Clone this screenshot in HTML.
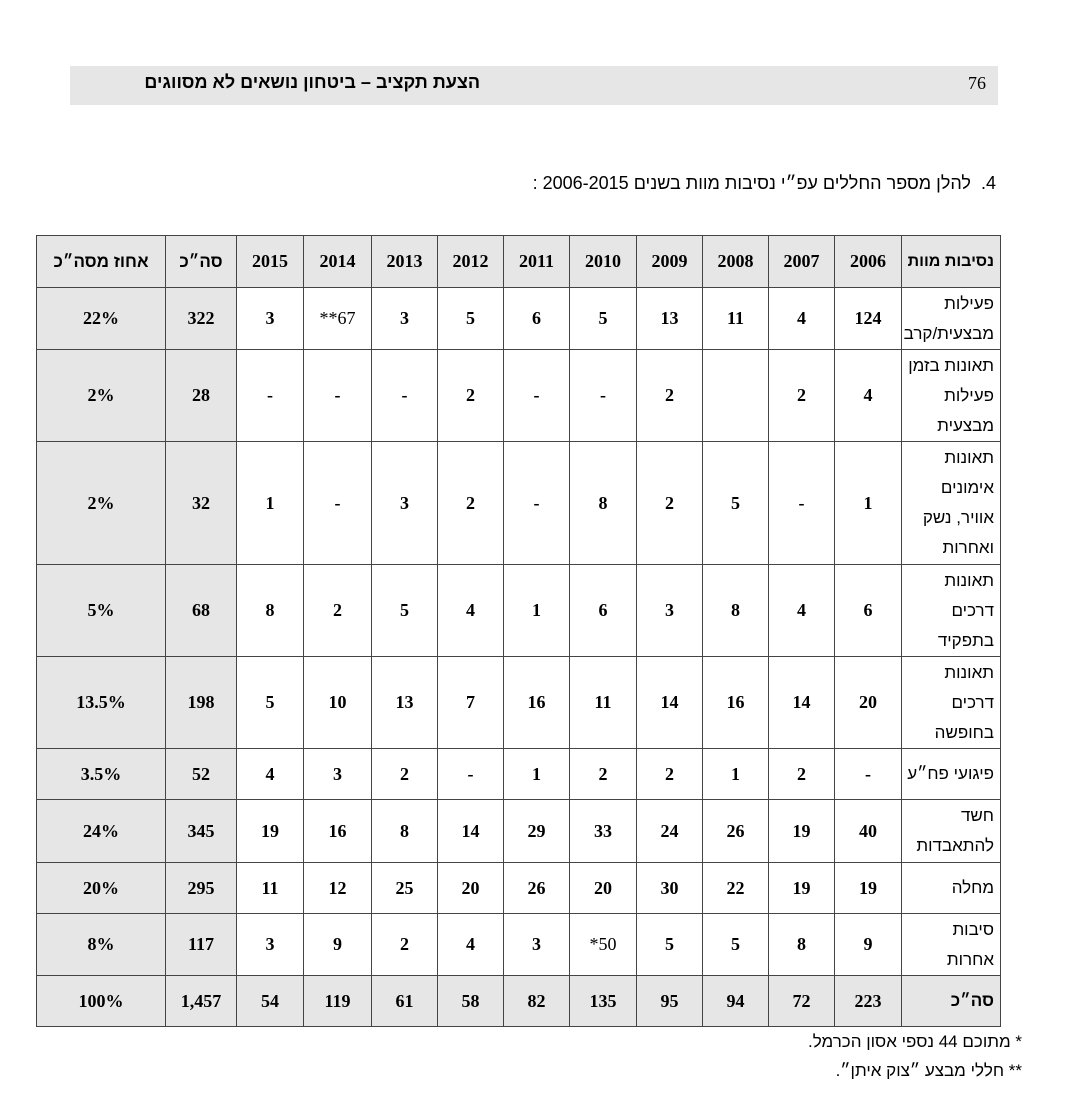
<!DOCTYPE html>
<html><head><meta charset="utf-8"><style>
body{margin:0;background:#fff;width:1080px;height:1118px;position:relative;font-family:"Liberation Serif","Noto Serif CJK SC",serif;}
.bar{position:absolute;left:70px;top:66px;width:928px;height:39px;background:#e6e6e6;}
.bar .t{position:absolute;right:518px;top:6px;font-size:18px;font-weight:bold;font-family:"Liberation Sans","DejaVu Sans",sans-serif;direction:rtl;}
.bar .n{position:absolute;right:12px;top:7px;font-size:18px;}
.title{position:absolute;right:84px;top:173px;font-size:18px;direction:rtl;font-family:"Liberation Sans","DejaVu Sans",sans-serif;}
table{position:absolute;left:36px;top:235px;border-collapse:collapse;table-layout:fixed;width:964px;}
td{border:1px solid #444;text-align:center;font-weight:bold;font-size:18px;padding:0;vertical-align:middle;white-space:nowrap;overflow:hidden;}
.g{background:#e6e6e6;}
td.l{direction:rtl;text-align:right;font-weight:normal;padding-right:6px;font-family:"Liberation Sans","DejaVu Sans",sans-serif;font-size:17px;line-height:30px;}
td.hl{font-weight:bold;font-family:"Liberation Sans","DejaVu Sans",sans-serif;font-size:17px;}
.o{unicode-bidi:bidi-override;direction:ltr;font-weight:normal;}
.fn{position:absolute;right:58px;font-size:17px;direction:rtl;font-family:"Liberation Sans","DejaVu Sans",sans-serif;}
</style></head><body>
<div class="bar"><div class="t">הצעת תקציב – ביטחון נושאים לא מסווגים</div><div class="n">76</div></div>
<div class="title">4.&nbsp; להלן מספר החללים עפ״י נסיבות מוות בשנים 2006-2015 :</div>
<table>
<colgroup><col style="width:129px"><col style="width:71px"><col style="width:67px"><col style="width:68px"><col style="width:66px"><col style="width:66px"><col style="width:66px"><col style="width:67px"><col style="width:66px"><col style="width:66px"><col style="width:66px"><col style="width:67px"><col style="width:99px"></colgroup>
<tr style="height:52px" class="g"><td class="hl" style="direction:rtl">אחוז מסה״כ</td><td class="hl" style="direction:rtl">סה״כ</td><td>2015</td><td>2014</td><td>2013</td><td>2012</td><td>2011</td><td>2010</td><td>2009</td><td>2008</td><td>2007</td><td>2006</td><td class="l hl" style="font-weight:bold;font-size:16px">נסיבות מוות</td></tr>
<tr style="height:62px"><td class="g">22%</td><td class="g">322</td><td>3</td><td><span class="o">**67</span></td><td>3</td><td>5</td><td>6</td><td>5</td><td>13</td><td>11</td><td>4</td><td>124</td><td class="l">פעילות<br>מבצעית/קרב</td></tr>
<tr style="height:92px"><td class="g">2%</td><td class="g">28</td><td>-</td><td>-</td><td>-</td><td>2</td><td>-</td><td>-</td><td>2</td><td></td><td>2</td><td>4</td><td class="l">תאונות בזמן<br>פעילות<br>מבצעית</td></tr>
<tr style="height:123px"><td class="g">2%</td><td class="g">32</td><td>1</td><td>-</td><td>3</td><td>2</td><td>-</td><td>8</td><td>2</td><td>5</td><td>-</td><td>1</td><td class="l">תאונות<br>אימונים<br>אוויר, נשק<br>ואחרות</td></tr>
<tr style="height:92px"><td class="g">5%</td><td class="g">68</td><td>8</td><td>2</td><td>5</td><td>4</td><td>1</td><td>6</td><td>3</td><td>8</td><td>4</td><td>6</td><td class="l">תאונות<br>דרכים<br>בתפקיד</td></tr>
<tr style="height:92px"><td class="g">13.5%</td><td class="g">198</td><td>5</td><td>10</td><td>13</td><td>7</td><td>16</td><td>11</td><td>14</td><td>16</td><td>14</td><td>20</td><td class="l">תאונות<br>דרכים<br>בחופשה</td></tr>
<tr style="height:51px"><td class="g">3.5%</td><td class="g">52</td><td>4</td><td>3</td><td>2</td><td>-</td><td>1</td><td>2</td><td>2</td><td>1</td><td>2</td><td>-</td><td class="l">פיגועי פח״ע</td></tr>
<tr style="height:63px"><td class="g">24%</td><td class="g">345</td><td>19</td><td>16</td><td>8</td><td>14</td><td>29</td><td>33</td><td>24</td><td>26</td><td>19</td><td>40</td><td class="l">חשד<br>להתאבדות</td></tr>
<tr style="height:51px"><td class="g">20%</td><td class="g">295</td><td>11</td><td>12</td><td>25</td><td>20</td><td>26</td><td>20</td><td>30</td><td>22</td><td>19</td><td>19</td><td class="l">מחלה</td></tr>
<tr style="height:62px"><td class="g">8%</td><td class="g">117</td><td>3</td><td>9</td><td>2</td><td>4</td><td>3</td><td><span class="o">*50</span></td><td>5</td><td>5</td><td>8</td><td>9</td><td class="l">סיבות<br>אחרות</td></tr>
<tr style="height:51px" class="g"><td>100%</td><td>1,457</td><td>54</td><td>119</td><td>61</td><td>58</td><td>82</td><td>135</td><td>95</td><td>94</td><td>72</td><td>223</td><td class="l hl" style="font-weight:bold">סה״כ</td></tr>
</table>
<div class="fn" style="top:1032px">* מתוכם 44 נספי אסון הכרמל.</div>
<div class="fn" style="top:1061px">** חללי מבצע ״צוק איתן״.</div>
</body></html>
